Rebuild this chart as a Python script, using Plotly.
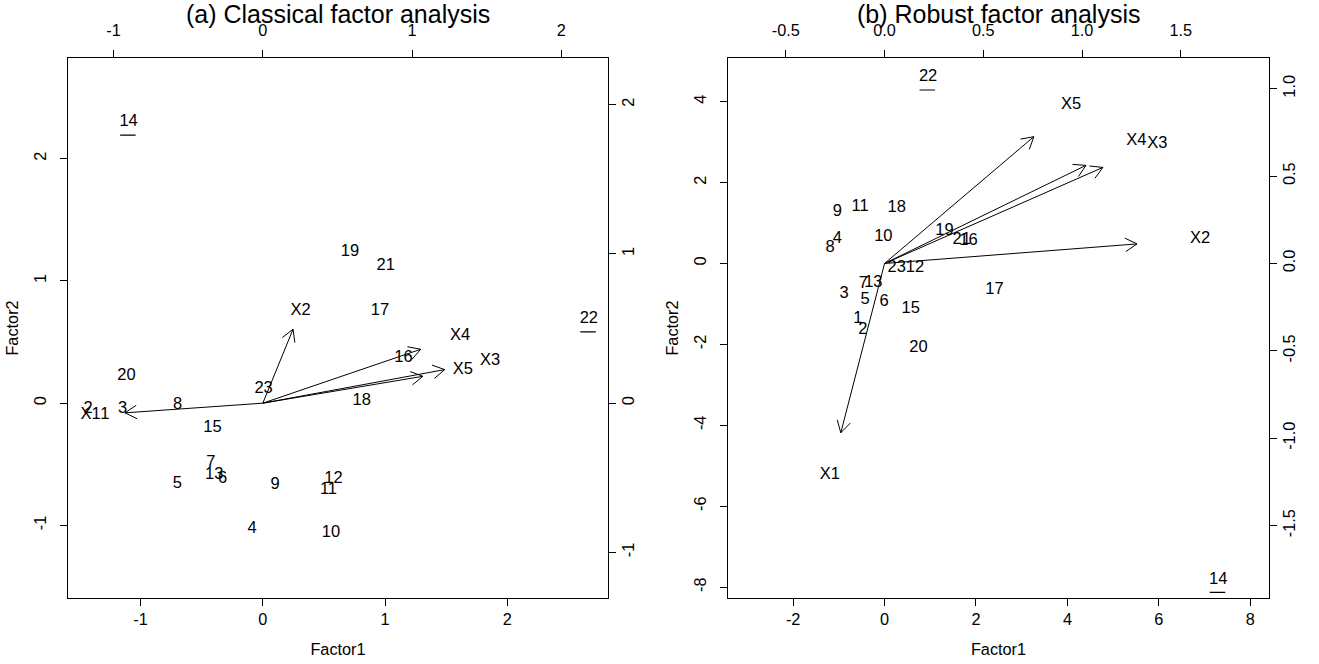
import math
import plotly.graph_objects as go

# ---------------- data: (a) classical factor analysis ----------------
obs_labels = [str(i) for i in range(1, 24)]
a_factor1 = [-1.293, -1.43, -1.148, -0.088, -0.70, -0.33, -0.426, -0.697, 0.10, 0.557,
             0.537, 0.578, -0.398, -1.098, -0.412, 1.15, 0.959, 0.809, 0.713, -1.115,
             1.006, 2.667, 0.006]
a_factor2 = [-0.098, -0.05, -0.043, -1.027, -0.657, -0.619, -0.492, -0.01, -0.668, -1.062,
             -0.712, -0.619, -0.584, 2.30, -0.205, 0.371, 0.755, 0.018, 1.239, 0.224,
             1.12, 0.69, 0.121]
var_labels = ["X1", "X2", "X3", "X4", "X5"]
a_load1 = [-1.154, 0.253, 1.523, 1.322, 1.34]
a_load2 = [-0.081, 0.619, 0.281, 0.451, 0.225]

# ---------------- data: (b) robust factor analysis ----------------
b_factor1 = [-0.587, -0.477, -0.886, -1.033, -0.427, -0.01, -0.464, -1.193, -1.033, -0.026,
             -0.536, 0.667, -0.245, 7.30, 0.573, 1.834, 2.403, 0.267, 1.309, 0.74,
             1.689, 0.952, 0.267]
b_factor2 = [-1.36, -1.648, -0.757, 0.597, -0.906, -0.94, -0.51, 0.374, 1.28, 0.646,
             1.389, -0.106, -0.49, -7.81, -1.12, 0.554, -0.658, 1.364, 0.81, -2.078,
             0.579, 4.61, -0.097]
b_load1 = [-0.277, 1.598, 1.382, 1.275, 0.945]
b_load2 = [-1.211, 0.14, 0.687, 0.702, 0.907]

underlined = ["14", "22"]

titles = ["(a) Classical factor analysis", "(b) Robust factor analysis"]

# axis ranges (scores) and loading/score scale ratios
a_xrange = [-1.594, 2.824]
a_yrange = [-1.594, 2.824]
a_ratio = 0.8188
b_xrange = [-3.425, 8.41]
b_yrange = [-8.27, 5.08]
b_ratio = 0.2315

a_xticks = [-1, 0, 1, 2]
a_yticks = [-1, 0, 1, 2]
a_ltick = [-1, 0, 1, 2]
b_xticks = [-2, 0, 2, 4, 6, 8]
b_yticks = [-8, -6, -4, -2, 0, 2, 4]
b_ltickx = [-0.5, 0.0, 0.5, 1.0, 1.5]
b_lticky = [-1.5, -1.0, -0.5, 0.0, 0.5, 1.0]

W, H = 1319, 664
FONT = "Liberation Sans, Arial, Helvetica, sans-serif"
FS = 16.3      # tick labels / axis titles
FT = 16.5      # point & variable labels

a_xdom = [68 / W, 608 / W]
b_xdom = [728 / W, 1269 / W]
ydom = [(H - 598) / H, (H - 58) / H]

fig = go.Figure()


def fmt(v, dec):
    return f"{v:.{dec}f}"


def axis_common(**kw):
    d = dict(showgrid=False, zeroline=False, showline=True, linecolor="black",
             linewidth=1, ticks="outside", ticklen=7, tickwidth=1, tickcolor="black",
             automargin=False,
             tickfont=dict(family=FONT, size=FS, color="black"))
    d.update(kw)
    return d


def add_panel(f1, f2, l1, l2, xr, yr, ratio, xdom, xa, ya, xla, yla,
              xt, yt, lxt, lyt, xdec, ydec, ldec, title):
    xref = "x" if xa == "xaxis" else "x" + xa[5:]
    yref = "y" if ya == "yaxis" else "y" + ya[5:]
    xlref = "x" + xla[5:]
    ylref = "y" + yla[5:]
    lxr = [v * ratio for v in xr]
    lyr = [v * ratio for v in yr]

    # scores as text
    fig.add_trace(go.Scatter(x=f1, y=f2, text=obs_labels, mode="text",
                             textposition="middle center",
                             textfont=dict(family=FONT, size=FT, color="black"),
                             xaxis=xref, yaxis=yref, showlegend=False,
                             hoverinfo="text"))
    # underlines
    for lab, xv, yv in zip(obs_labels, f1, f2):
        if lab in underlined:
            fig.add_annotation(x=xv, y=yv, xref=xref, yref=yref, text="",
                               showarrow=True, arrowhead=0, arrowwidth=1.2,
                               arrowcolor="black", ax=17, ay=0, standoff=0,
                               startstandoff=0, xshift=-8.5, yshift=-13)

    # arrows (to 0.8 * loading) with open V heads
    dom_w = (xdom[1] - xdom[0]) * W
    dom_h = (ydom[1] - ydom[0]) * H
    sx = dom_w / (lxr[1] - lxr[0])
    sy = dom_h / (lyr[1] - lyr[0])
    hl = 13.5
    ang = math.radians(30)
    lx, ly = [], []
    for a, b in zip(l1, l2):
        tx, ty = 0.8 * a, 0.8 * b
        lx += [0, tx, None]
        ly += [0, ty, None]
        th = math.atan2(ty * sy, tx * sx)
        for s in (ang, -ang):
            hx = tx - hl * math.cos(th + s) / sx
            hy = ty - hl * math.sin(th + s) / sy
            lx += [hx, tx, None]
            ly += [hy, ty, None]
    fig.add_trace(go.Scatter(x=lx, y=ly, mode="lines",
                             line=dict(color="black", width=1),
                             xaxis=xlref, yaxis=ylref, showlegend=False,
                             hoverinfo="skip"))
    fig.add_trace(go.Scatter(x=l1, y=l2, text=var_labels, mode="text",
                             textposition="middle center",
                             textfont=dict(family=FONT, size=FT, color="black"),
                             xaxis=xlref, yaxis=ylref, showlegend=False,
                             hoverinfo="text"))

    lay = {}
    lay[xa] = axis_common(domain=xdom, range=xr, anchor=yref, side="bottom",
                          mirror=True, tickvals=xt,
                          ticktext=[fmt(v, xdec) for v in xt],
                          ticklabelstandoff=-1,
                          title=dict(text="Factor1", standoff=17,
                                     font=dict(family=FONT, size=FS, color="black")))
    lay[ya] = axis_common(domain=ydom, range=yr, anchor=xref, side="left",
                          mirror=True, tickvals=yt, tickangle=-90,
                          ticktext=[fmt(v, ydec) for v in yt],
                          ticklabelstandoff=7,
                          title=dict(text="Factor2", standoff=8,
                                     font=dict(family=FONT, size=FS, color="black")))
    lay[xla] = axis_common(range=lxr, overlaying=xref, anchor=yref, side="top",
                           tickvals=lxt, ticktext=[fmt(v, ldec) for v in lxt],
                           ticklabelstandoff=7)
    lay[yla] = axis_common(range=lyr, overlaying=yref, anchor=xref, side="right",
                           tickvals=lyt, tickangle=-90,
                           ticktext=[fmt(v, ldec) for v in lyt],
                           ticklabelstandoff=-2)
    fig.update_layout(**lay)
    fig.add_annotation(x=(xdom[0] + xdom[1]) / 2, y=1 - 14 / H, xref="paper",
                       yref="paper", text=title, showarrow=False,
                       font=dict(family=FONT, size=25, color="black"),
                       xanchor="center", yanchor="middle")


add_panel(a_factor1, a_factor2, a_load1, a_load2, a_xrange, a_yrange, a_ratio,
          a_xdom, "xaxis", "yaxis", "xaxis3", "yaxis3",
          a_xticks, a_yticks, a_ltick, a_ltick, 0, 0, 0, titles[0])
add_panel(b_factor1, b_factor2, b_load1, b_load2, b_xrange, b_yrange, b_ratio,
          b_xdom, "xaxis2", "yaxis2", "xaxis4", "yaxis4",
          b_xticks, b_yticks, b_ltickx, b_lticky, 0, 0, 1, titles[1])

fig.update_layout(width=W, height=H, margin=dict(l=0, r=0, t=0, b=0),
                  paper_bgcolor="white", plot_bgcolor="white",
                  font=dict(family=FONT, size=FS, color="black"),
                  showlegend=False)

fig.write_html("out.html",
               config={"displayModeBar": False},
               post_script="document.body.style.margin='0px';"
                           "document.body.style.overflow='hidden';")
